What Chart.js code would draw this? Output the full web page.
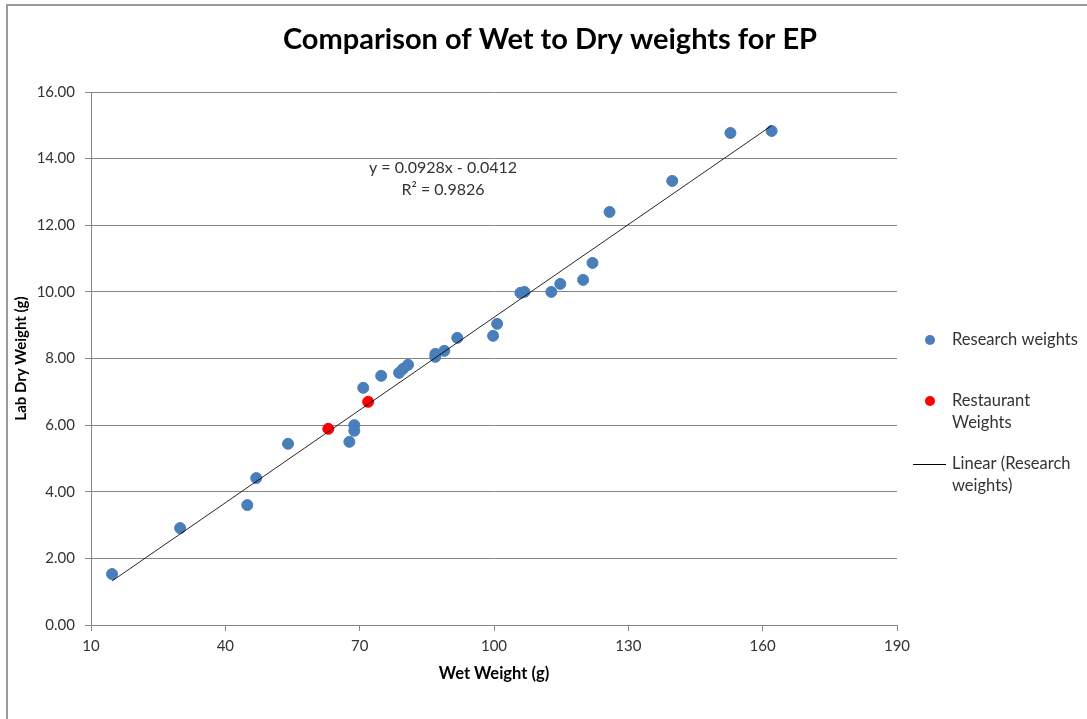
<!DOCTYPE html>
<html>
<head>
<meta charset="utf-8">
<script src="https://cdn.jsdelivr.net/npm/chart.js@4"></script>
<style>
  html, body { margin: 0; padding: 0; background: #fff; }
  #wrap { width: 1087px; height: 719px; }
</style>
</head>
<body>
<div id="wrap"><canvas id="chart" width="1087" height="719"></canvas></div>
<script>
// values
const researchWet = [14.7, 29.9, 44.9, 46.9, 54.0, 67.7, 68.8, 68.8, 70.8, 74.8, 78.8, 79.7, 80.8, 86.9, 86.9, 88.9, 91.8, 99.8, 100.7, 105.9, 106.8, 112.8, 114.8, 119.9, 122.0, 125.8, 139.8, 152.8, 162.0];
const researchDry = [1.53, 2.91, 3.60, 4.41, 5.44, 5.50, 5.83, 6.00, 7.12, 7.48, 7.57, 7.69, 7.81, 8.05, 8.14, 8.23, 8.62, 8.68, 9.04, 9.97, 10.00, 10.00, 10.24, 10.36, 10.87, 12.40, 13.33, 14.77, 14.83];
const restaurantWet = [63.0, 71.9];
const restaurantDry = [5.89, 6.70];
// ends of the Excel trendline as drawn
const trendWet = [14.7, 162.0];
const trendDry = [1.32, 14.99];
const trendLabel = ['y = 0.0928x - 0.0412', 'R² = 0.9826'];

const chartTitle = 'Comparison of Wet to Dry weights for EP';
const xTicks = [10, 40, 70, 100, 130, 160, 190];
const yTicks = [0, 2, 4, 6, 8, 10, 12, 14, 16];

const legendItems = [
    { kind: 'dot', color: '#4A7EBB', lines: ['Research weights'] },
    { kind: 'dot', color: '#FF0000', lines: ['Restaurant', 'Weights'] },
    { kind: 'line', color: '#000000', lines: ['Linear (Research', 'weights)'] }
];

const FONT = 'Lato, "Open Sans", sans-serif';
const GRID = '#868686';
const TEXT = '#333333';

const toPoints = (xs, ys) => xs.map((x, i) => ({ x: x, y: ys[i] }));

// frame, title, legend and trendline equation (Excel-style extras)
const extras = {
    id: 'extras',
    beforeDraw(chart) {
        const ctx = chart.ctx;
        ctx.save();
        ctx.fillStyle = '#fff';
        ctx.fillRect(0, 0, chart.width, chart.height);
        ctx.strokeStyle = '#9a9a9a';
        ctx.lineWidth = 2;
        ctx.beginPath();
        ctx.moveTo(7, chart.height);
        ctx.lineTo(7, 5);
        ctx.lineTo(chart.width, 5);
        ctx.stroke();
        ctx.restore();
    },
    afterDraw(chart) {
        const ctx = chart.ctx;
        ctx.save();
        ctx.textBaseline = 'middle';

        // title, centred on the whole picture like Excel does
        ctx.textAlign = 'center';
        ctx.fillStyle = '#000';
        ctx.font = 'bold 29px ' + FONT;
        ctx.fillText(chartTitle, 550, 40);

        // trendline equation
        ctx.font = '16px ' + FONT;
        ctx.fillStyle = TEXT;
        ctx.fillText(trendLabel[0], 443, 168);
        ctx.fillText(trendLabel[1], 443, 190);

        // legend
        ctx.font = '16.5px ' + FONT;
        ctx.textAlign = 'left';
        const rowY = [340, 401, 464];
        legendItems.forEach((item, i) => {
            const y = rowY[i];
            if (item.kind === 'dot') {
                ctx.fillStyle = item.color;
                ctx.beginPath();
                ctx.arc(930, y, 5, 0, Math.PI * 2);
                ctx.fill();
            } else {
                ctx.strokeStyle = item.color;
                ctx.lineWidth = 1;
                ctx.beginPath();
                ctx.moveTo(913, y + 0.5);
                ctx.lineTo(946, y + 0.5);
                ctx.stroke();
            }
            ctx.fillStyle = TEXT;
            item.lines.forEach((line, j) => ctx.fillText(line, 952, y + j * 22));
        });
        ctx.restore();
    }
};

new Chart(document.getElementById('chart'), {
    type: 'scatter',
    data: {
        datasets: [
            {
                label: 'Linear (Research weights)',
                type: 'line',
                data: toPoints(trendWet, trendDry),
                borderColor: 'rgba(0,0,0,0.85)',
                borderWidth: 1,
                pointRadius: 0,
                showLine: true,
                fill: false,
                order: 0
            },
            {
                label: 'Research weights',
                data: toPoints(researchWet, researchDry),
                backgroundColor: '#4A7EBB',
                borderColor: '#4A7EBB',
                pointRadius: 5.5,
                order: 1
            },
            {
                label: 'Restaurant Weights',
                data: toPoints(restaurantWet, restaurantDry),
                backgroundColor: '#FF0000',
                borderColor: '#FF0000',
                pointRadius: 5.5,
                order: 1
            }
        ]
    },
    options: {
        responsive: false,
        animation: false,
        layout: { padding: { left: 0, right: 190, top: 92, bottom: 0 } },
        plugins: {
            legend: { display: false },
            tooltip: { enabled: false },
            title: { display: false }
        },
        scales: {
            x: {
                type: 'linear',
                min: 10,
                max: 190,
                afterBuildTicks: (scale) => { scale.ticks = xTicks.map(v => ({ value: v })); },
                ticks: { color: TEXT, font: { family: FONT, size: 15 }, padding: 6 },
                grid: { drawOnChartArea: false, drawTicks: true, tickLength: 6, color: GRID },
                border: { color: GRID },
                title: {
                    display: true,
                    text: 'Wet Weight (g)',
                    color: '#000',
                    font: { family: FONT, size: 16.5, weight: 'bold', lineHeight: 1.2 },
                    padding: { top: 4, bottom: 35 }
                },
                afterFit: (scale) => { scale.height = 94; }
            },
            y: {
                type: 'linear',
                min: 0,
                max: 16,
                afterBuildTicks: (scale) => { scale.ticks = yTicks.map(v => ({ value: v })); },
                ticks: {
                    color: TEXT,
                    font: { family: FONT, size: 15 },
                    padding: 10,
                    callback: (v) => Number(v).toFixed(2)
                },
                grid: { color: GRID, tickLength: 6 },
                border: { color: GRID },
                title: {
                    display: true,
                    text: 'Lab Dry Weight (g)',
                    color: '#000',
                    font: { family: FONT, size: 15, weight: 'bold', lineHeight: 1.2 },
                    padding: { top: 12, bottom: 4 }
                },
                afterFit: (scale) => { scale.width = 91; }
            }
        }
    },
    plugins: [extras]
});
</script>
</body>
</html>
